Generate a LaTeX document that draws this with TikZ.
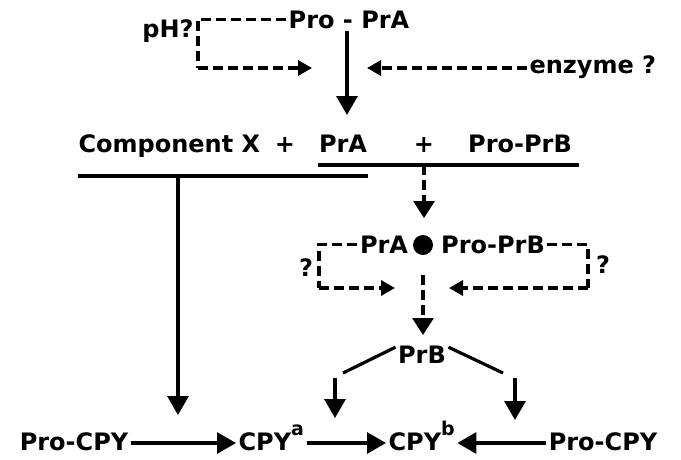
\documentclass[tikz,border=0pt]{standalone}
\usepackage{fontspec}
\setmainfont{DejaVu Sans}
\usetikzlibrary{arrows.meta}
\newcommand{\sups}[1]{\raisebox{0.62em}{\fontsize{19}{19}\selectfont #1}}

\begin{document}
\begin{tikzpicture}[x=1pt,y=-1pt,line width=3.2pt,
  every node/.style={inner sep=1pt,font=\fontsize{24}{27}\selectfont\bfseries},
  arr/.style={-{Triangle[length=19pt,width=21pt]}},
  dashline/.style={dash pattern=on 10pt off 5pt},
  darr/.style={dashline,-{Triangle[length=17pt,width=21pt]}},
  sarr/.style={dashline,-{Triangle[length=14pt,width=15pt]}},
  rowtext/.style={text height=18pt,text depth=4pt}]
\useasboundingbox (0,0) rectangle (681,459);
\node[anchor=base] (proprA) at (349,28) {Pro - PrA};
\node[anchor=base] (ph) at (168,37) {pH?};
\node[anchor=base west] (enzyme) at (527,73) {enzyme ?};
\coordinate (phBot) at (198,68);
\coordinate (phTip) at (312,68);
\coordinate (enzTip) at (367,68);
\coordinate (topTip) at (347,115);
\draw[dashline] (proprA.west) -| (phBot);
\draw[sarr] (phBot) -- (phTip);
\draw[sarr] (enzyme.west |- enzTip) -- (enzTip);
\draw[arr] (proprA.south -| topTip) -- (topTip);
\node[anchor=base west] (compX) at (76,152) {Component X};
\node[anchor=base] (plusA) at (285,152) {+};
\node[anchor=base] (prA) at (343,152) {PrA};
\node[anchor=base] (plusB) at (424,152) {+};
\node[anchor=base] (proprB) at (520,152) {Pro-PrB};
\coordinate (upL) at (318,165);
\coordinate (upR) at (579,165);
\coordinate (loL) at (78,176);
\coordinate (loR) at (368,176);
\draw (upL) -- (upR);
\draw (loL) -- (loR);
\coordinate (tipX) at (178,415);
\draw[arr] (tipX |- loL) -- (tipX);
\coordinate (tipB) at (424,218);
\draw[darr] (tipB |- upL) -- (tipB);
\node[anchor=base] (cplxA) at (384,253) {PrA};
\fill (423,245) circle (10) coordinate (dot);
\node[anchor=base] (cplxB) at (493,253) {Pro-PrB};
\node (qL) at (306,268) {?};
\node (qR) at (603,265) {?};
\coordinate (lBot) at (319,288);
\coordinate (lTip) at (395,288);
\coordinate (rBot) at (588,288);
\coordinate (rTip) at (449,288);
\draw[dashline] (cplxA.west) -| (lBot);
\draw[sarr] (lBot) -- (lTip);
\draw[dashline] (cplxB.east) -| (rBot);
\draw[sarr] (rBot) -- (rTip);
\coordinate (cTop) at (423,275);
\coordinate (cTip) at (423,335);
\draw[darr] (cTop) -- (cTip);
\node[anchor=base] (prB) at (422,363) {PrB};
\coordinate (bl) at (343,373);
\coordinate (br) at (503,373);
\draw (prB.165) -- (bl);
\draw (prB.15) -- (br);
\coordinate (aTop) at (335,378);
\coordinate (aTip) at (335,418);
\coordinate (bTop) at (515,378);
\coordinate (bTip) at (515,420);
\draw[arr] (aTop) -- (aTip);
\draw[arr] (bTop) -- (bTip);
\node[rowtext,anchor=base] (proCPYa) at (74,450) {Pro-CPY};
\node[rowtext,anchor=base west] (cpyA) at (236,450) {CPY\sups{a}};
\node[rowtext,anchor=base west] (cpyB) at (386,450) {CPY\sups{b}};
\node[rowtext,anchor=base] (proCPYb) at (603,450) {Pro-CPY};
\draw[arr] (proCPYa.east) -- (cpyA.west);
\draw[arr] (cpyA.east) -- (cpyB.west);
\draw[arr] (proCPYb.west) -- (cpyB.east);
\end{tikzpicture}
\end{document}
